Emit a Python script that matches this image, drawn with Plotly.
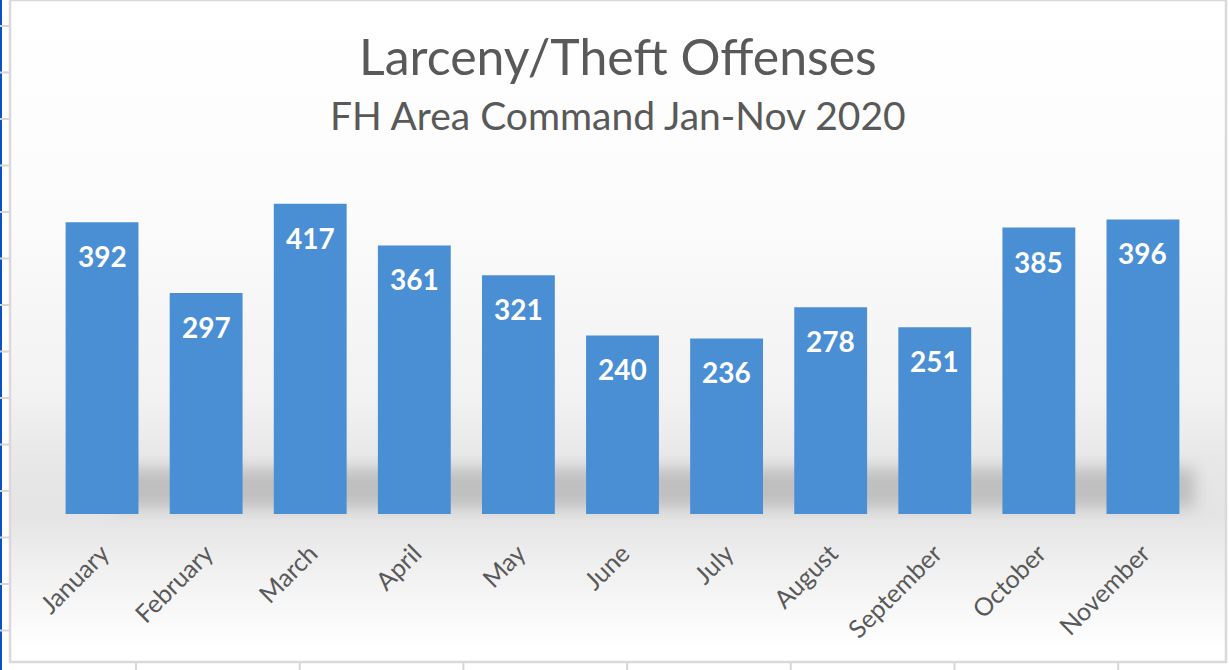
import base64
import plotly.graph_objects as go

months = ["January", "February", "March", "April", "May", "June", "July",
          "August", "September", "October", "November"]
offenses = [392, 297, 417, 361, 321, 240, 236, 278, 251, 385, 396]
title_text = "Larceny/Theft Offenses"
subtitle_text = "FH Area Command Jan-Nov 2020"

W, H = 1229, 670
ML, MR, MT, MB = 50, 34, 142, 156
PW, PH = W - ML - MR, H - MT - MB
YMAX = 500

def py(p):  # pixel y -> paper y
    return (H - MB - p) / PH

def px(p):
    return (p - ML) / PW

# decorative background (spreadsheet frame + chart area gradient + floor shadow)
hlines = "".join(f'<rect x="0" y="{25 + i*46.5:.1f}" width="10" height="2" fill="#D6D6D6"/>' for i in range(14))
vlines = "".join(f'<rect x="{135 + i*163.7:.1f}" y="662" width="2" height="8" fill="#D6D6D6"/>' for i in range(7))
svg = f'''<svg xmlns="http://www.w3.org/2000/svg" width="{W}" height="{H}" viewBox="0 0 {W} {H}" preserveAspectRatio="none">
<defs>
<linearGradient id="bg" x1="0" y1="0" x2="0" y2="662" gradientUnits="userSpaceOnUse">
<stop offset="0" stop-color="#FFFFFF"/>
<stop offset="0.30" stop-color="#FCFCFC"/>
<stop offset="0.60" stop-color="#F2F2F2"/>
<stop offset="0.69" stop-color="#E8E8E8"/>
<stop offset="0.778" stop-color="#E4E4E4"/>
<stop offset="0.85" stop-color="#EFEFEF"/>
<stop offset="0.98" stop-color="#FFFFFF"/>
</linearGradient>
<filter id="blur" x="-10%" y="-60%" width="120%" height="220%"><feGaussianBlur stdDeviation="8"/></filter>
</defs>
<rect x="0" y="0" width="{W}" height="{H}" fill="#FFFFFF"/>
<rect x="0" y="0" width="2" height="{H}" fill="#0A52C6"/>
{hlines}
{vlines}
<rect x="10" y="0" width="1216" height="662" fill="url(#bg)" stroke="#D9D9D9" stroke-width="2.5"/>
<rect x="115" y="468" width="1080" height="40" fill="#BFBFBF" filter="url(#blur)"/>
</svg>'''
src = "data:image/svg+xml;base64," + base64.b64encode(svg.encode()).decode()

fig = go.Figure(go.Bar(
    x=months, y=offenses,
    marker=dict(color="#4A8ED4", line=dict(width=0)),
    hoverinfo="x+y",
))

annotations = [
    dict(x=m, y=v, xref="x", yref="y", text=str(v), showarrow=False,
         yshift=-34, font=dict(family="Lato", size=28, color="white", weight="bold"))
    for m, v in zip(months, offenses)
]
annotations.append(dict(x=px(618), y=py(56), xref="paper", yref="paper", text=title_text,
                        showarrow=False, xanchor="center", yanchor="middle",
                        font=dict(family="Lato", size=50, color="#595959")))
annotations.append(dict(x=px(618), y=py(115), xref="paper", yref="paper", text=subtitle_text,
                        showarrow=False, xanchor="center", yanchor="middle",
                        font=dict(family="Lato", size=39, color="#595959")))

fig.update_layout(
    width=W, height=H,
    margin=dict(l=ML, r=MR, t=MT, b=MB, pad=0),
    paper_bgcolor="white", plot_bgcolor="rgba(0,0,0,0)",
    bargap=0.30, showlegend=False,
    annotations=annotations,
    images=[dict(source=src, xref="paper", yref="paper", x=px(0), y=py(0),
                 sizex=W / PW, sizey=H / PH, xanchor="left", yanchor="top",
                 sizing="stretch", layer="below")],
    xaxis=dict(showgrid=False, showline=False, zeroline=False,
               ticks="outside", ticklen=14, tickcolor="rgba(0,0,0,0)",
               tickangle=-45, tickfont=dict(family="Lato", size=25, color="#595959"),
               fixedrange=True),
    yaxis=dict(range=[0, YMAX], visible=False, showgrid=False, zeroline=False, fixedrange=True),
)

fig.write_html("out.html", config={"displayModeBar": False},
               post_script="document.body.style.margin='0';")
